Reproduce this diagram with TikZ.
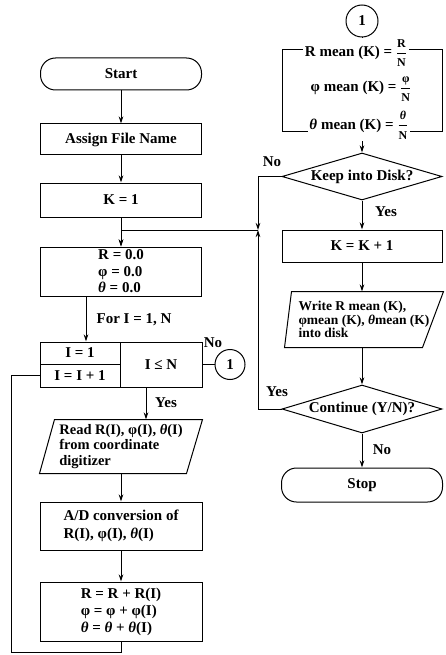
\documentclass[tikz,border=0pt]{standalone}
\usepackage{amsmath}
\usepackage{fontspec}
\setmainfont{Liberation Serif}
\usetikzlibrary{arrows.meta,shapes.geometric}
\newcommand{\myphi}{φ}
\newcommand{\mytheta}{\textit{θ}}
\newcommand{\fpart}[1]{\text{\bfseries\fontsize{12}{12}\selectfont #1}}
\newcommand{\myfrac}[2]{\ensuremath{\genfrac{}{}{0.6pt}{0}{\fpart{#1}}{\fpart{#2}}}}
\begin{document}
\begin{tikzpicture}[x=1pt,y=-1pt,
  font=\bfseries\fontsize{15}{16.5}\selectfont,
  line width=1pt,
  box/.style={draw, rectangle, inner sep=0pt},
  term/.style={draw, rectangle, rounded corners=15pt, inner sep=0pt, minimum width=161pt},
  arr/.style={-{Stealth[length=7pt,width=4.5pt]}},
  dec/.style={draw, diamond, aspect=3.4, inner sep=0pt, minimum width=160pt, minimum height=47pt},
  conn/.style={draw, circle, inner sep=0pt},
  lbl/.style={inner sep=0pt},
  eq/.style={fill=white, inner sep=1.5pt}
]
\useasboundingbox (0,0) rectangle (445,655);

% ---------- left column ----------
\node[term, minimum height=32pt] (start) at (121,74) {Start};
\node[box, minimum width=161pt, minimum height=31pt] (assign) at (121,139.5) {Assign File Name};
\node[box, minimum width=161pt, minimum height=34pt] (k1) at (121,200) {K = 1};
\node[box, minimum width=161pt, minimum height=49pt, align=left] (rzero) at (121,271.5)
  {R = 0.0\\\myphi{} = 0.0\\\mytheta{} = 0.0};

\node[box, minimum width=80pt, minimum height=22pt] (ione) at (80,353) {I = 1};
\node[box, minimum width=80pt, minimum height=23pt] (iinc) at (80,375.5) {I = I + 1};
\node[box, minimum width=82pt, minimum height=45pt] (itest) at (161,364.5) {I ≤ N};
\node[conn, minimum size=30pt] (c1l) at (230,364.5) {1};

\node[inner sep=0pt, minimum width=162pt, minimum height=53pt, align=left,
  font=\bfseries\fontsize{14.5}{15.5}\selectfont] (read) at (121,446.5)
  {Read R(I), \myphi(I), \mytheta(I)\\from coordinate\\digitizer};
\draw ([xshift=15pt]read.north west) -- (read.north east)
  -- ([xshift=-16pt]read.south east) -- (read.south west) -- cycle;

\node[box, minimum width=162pt, minimum height=48pt, align=left,
  font=\bfseries\fontsize{15}{18}\selectfont] (ad) at (121,526)
  {A/D conversion of\\R(I), \myphi(I), \mytheta(I)};
\node[box, minimum width=162pt, minimum height=59pt, align=left,
  font=\bfseries\fontsize{15}{17}\selectfont] (acc) at (121,611.5)
  {R = R + R(I)\\\myphi{} = \myphi{} + \myphi(I)\\\mytheta{} = \mytheta{} + \mytheta(I)};

% ---------- right column ----------
\node[conn, minimum size=32pt] (c1r) at (362,21) {1};
\node[box, minimum width=160pt, minimum height=82pt] (meanbox) at (362,91) {};
\node[dec] (keep) at (362,176.5) {Keep into Disk?};
\draw[arr] (meanbox.south) -- (keep.north);
\node[eq] (m1) at (356,53) {R mean (K) = \myfrac{R}{N}};
\node[eq] (m2) at (361,89) {\myphi{} mean (K) = \myfrac{\myphi}{N}};
\node[eq] (m3) at (359,125) {\mytheta{} mean (K) = \myfrac{\mytheta}{N}};
\draw (c1r.south) -- (c1r.south |- m1.north);

\node[box, minimum width=160pt, minimum height=32pt] (kk) at (362,246) {K = K + 1};
\node[inner sep=0pt, minimum width=158pt, minimum height=55pt, align=left,
  font=\bfseries\fontsize{13.5}{13.5}\selectfont] (write) at (364,319.5)
  {Write R mean (K),\\\myphi mean (K), \mytheta mean (K)\\into disk};
\draw ([xshift=7pt]write.north west) -- (write.north east)
  -- ([xshift=-21pt]write.south east) -- (write.south west) -- cycle;
\node[dec, minimum height=48pt] (cont) at (362,409) {Continue (Y/N)?};
\node[term, minimum height=34pt] (stop) at (362,485) {Stop};

% ---------- connectors ----------
\coordinate (forx) at (86,0);
\coordinate (yx) at (146,0);
\coordinate (jx) at (258,230);
\coordinate (lb) at (11,652);

\draw[arr] (start) -- (assign);
\draw[arr] (assign) -- (k1);
\draw[arr] (k1) -- (rzero);
\draw[arr] (jx) -| (rzero.north);
\draw[arr] (forx |- rzero.south) -- (forx |- ione.north);
\draw[arr] (yx |- itest.south) -- (yx |- read.north);
\draw (itest.east) -- (c1l.west);
\draw[arr] (read.south) -- (ad.north);
\draw[arr] (ad) -- (acc);
\draw (acc.south) |- (lb) |- (iinc.west);

\draw[arr] (keep.west) -| (jx);
\draw[arr] (cont.west) -| (jx);
\draw[arr] (keep.south) -- (kk.north);
\draw[arr] (kk.south) -- (kk.south |- write.north);
\draw[arr] (kk.south |- write.south) -- (cont.north);
\draw[arr] (cont.south) -- (stop.north);

% ---------- labels ----------
\node[lbl] (lfor) at (134,320) {For I = 1, N};
\node[lbl] (lno1) at (213,343) {No};
\node[lbl] (lyes1) at (166,403) {Yes};
\node[lbl] (lno2) at (272,162) {No};
\node[lbl] (lyes2) at (386,212) {Yes};
\node[lbl] (lyes3) at (277,392) {Yes};
\node[lbl] (lno3) at (382,450) {No};
\end{tikzpicture}
\end{document}
